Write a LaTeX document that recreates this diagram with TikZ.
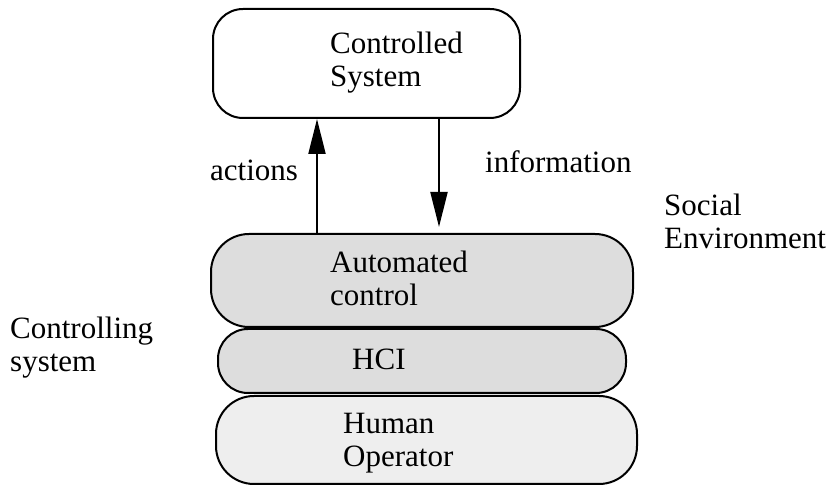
\documentclass[tikz,border=0pt]{standalone}
\usepackage{fontspec}
\setmainfont{Liberation Serif}
\usetikzlibrary{arrows.meta}
\definecolor{shadeA}{HTML}{DDDDDD}
\definecolor{shadeB}{HTML}{EEEEEE}
\tikzset{
  layer/.style={draw=black, line width=2pt, inner sep=0pt},
  label/.style={anchor=base west, inner sep=0pt, align=left,
    font=\fontsize{31}{33}\selectfont},
  flow/.style={line width=2pt, -{Triangle[length=35pt,width=17pt]}},
}
\begin{document}
\begin{tikzpicture}[x=1pt, y=-1pt]
  \useasboundingbox (0,0) rectangle (831,486);

  % boxes
  \node[layer, fill=white, rounded corners=30pt, minimum width=307pt, minimum height=109pt]
    (cs) at (366.5,63.5) {};
  \node[layer, fill=shadeA, rounded corners=38pt, minimum width=422pt, minimum height=93pt]
    (ac) at (422,280.5) {};
  \node[layer, fill=shadeA, rounded corners=30pt, minimum width=408pt, minimum height=64pt]
    (hci) at (422,361) {};
  \node[layer, fill=shadeB, rounded corners=38pt, minimum width=421pt, minimum height=88pt]
    (ho) at (426.5,440) {};

  % box texts (anchored at the baseline of their last line)
  \node[label] (csT) at (330,87) {Controlled\\System};
  \node[label] (acT) at (330,306) {Automated\\control};
  \node[label] (hciT) at (352,370) {HCI};
  \node[label] (hoT) at (343,467) {Human\\Operator};

  % side texts
  \node[label] (actT) at (210,181) {actions};
  \node[label] (infT) at (485,173) {information};
  \node[label] (socT) at (664,249) {Social\\Environment};
  \node[label] (ctlT) at (10,372) {Controlling\\system};

  % connectors
  \coordinate (upx) at (317,0);
  \coordinate (dnx) at (439,0);
  \coordinate (dnEnd) at (439,227);
  \draw[flow] (upx |- ac.north) -- (upx |- cs.south);
  \draw[flow] (dnx |- cs.south) -- (dnEnd);
\end{tikzpicture}
\end{document}
